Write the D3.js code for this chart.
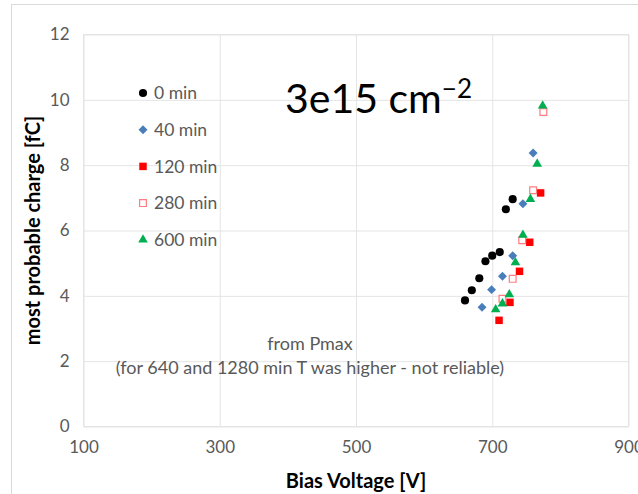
<!DOCTYPE html>
<html>
<head>
<meta charset="utf-8">
<script src="https://cdn.jsdelivr.net/npm/d3@7"></script>
<style>
  body { margin: 0; background: #fff; }
  svg { display: block; font-family: Lato, "Open Sans", sans-serif; }
</style>
</head>
<body>
<svg width="638" height="494"></svg>
<script>
"use strict";

// data (bias voltage [V], most probable charge [fC])
const seriesNames = ["0 min", "40 min", "120 min", "280 min", "600 min"];

const volt0 = [660, 670, 681, 690, 700, 711, 720, 730];
const charge0 = [3.86, 4.17, 4.54, 5.06, 5.23, 5.34, 6.65, 6.96];

const volt40 = [685, 699, 715, 730, 745, 760];
const charge40 = [3.65, 4.19, 4.6, 5.23, 6.82, 8.37];

const volt120 = [710, 726, 740, 755, 771];
const charge120 = [3.25, 3.8, 4.75, 5.64, 7.15];

const volt280 = [715, 730, 744, 760, 775];
const charge280 = [3.91, 4.52, 5.7, 7.23, 9.63];

const volt600 = [705, 715, 725, 734, 745, 756, 766, 774];
const charge600 = [3.58, 3.76, 4.04, 5.02, 5.86, 6.96, 8.04, 9.82];

const xTicks = [100, 300, 500, 700, 900];
const yTicks = [0, 2, 4, 6, 8, 10, 12];

const svg = d3.select("svg");

const margin = { top: 34.5, left: 83.5, right: 9.5, bottom: 67.5 };
const width = +svg.attr("width");
const height = +svg.attr("height");
const innerWidth = width - margin.left - margin.right;
const innerHeight = height - margin.top - margin.bottom;

const x = d3.scaleLinear().domain([100, 900]).range([0, innerWidth]);
const y = d3.scaleLinear().domain([0, 12]).range([innerHeight, 0]);

// outer chart border (only top/left visible)
svg.append("rect")
  .attr("x", 11.5).attr("y", 4.5)
  .attr("width", 700).attr("height", 600)
  .attr("fill", "none")
  .attr("stroke", "#d9d9d9");

const g = svg.append("g")
  .attr("transform", `translate(${margin.left},${margin.top})`);

// gridlines
const gridColor = "#e4e4e4";
const yAxis = d3.axisLeft(y).tickValues(yTicks).tickSize(-innerWidth).tickPadding(14);
const yAxisG = g.append("g").call(yAxis);
yAxisG.select(".domain").remove();
yAxisG.selectAll(".tick line").attr("stroke", gridColor);
yAxisG.selectAll(".tick text")
  .attr("fill", "#595959")
  .style("font-size", "17px")
  .style("font-family", "Lato, sans-serif");

const xAxis = d3.axisBottom(x).tickValues(xTicks).tickSize(-innerHeight).tickPadding(14);
const xAxisG = g.append("g")
  .attr("transform", `translate(0,${innerHeight})`)
  .call(xAxis);
xAxisG.select(".domain").remove();
xAxisG.selectAll(".tick line").attr("stroke", gridColor);
xAxisG.selectAll(".tick text")
  .attr("fill", "#595959")
  .style("font-size", "17px")
  .style("font-family", "Lato, sans-serif");

// plot area border
g.append("rect")
  .attr("width", innerWidth).attr("height", innerHeight)
  .attr("fill", "none")
  .attr("stroke", gridColor);

// axis titles
svg.append("text")
  .attr("x", margin.left + innerWidth / 2)
  .attr("y", 488)
  .attr("text-anchor", "middle")
  .style("font-size", "20px")
  .style("font-weight", "bold")
  .attr("fill", "#000")
  .text("Bias Voltage [V]");

svg.append("text")
  .attr("transform", `translate(40,${margin.top + innerHeight / 2}) rotate(-90)`)
  .attr("text-anchor", "middle")
  .style("font-size", "20px")
  .style("font-weight", "bold")
  .attr("fill", "#000")
  .text("most probable charge [fC]");

// series styles
const seriesData = [
  { name: seriesNames[0], v: volt0, q: charge0, type: d3.symbolCircle, size: 52, fill: "#000", stroke: "none", rot: 0 },
  { name: seriesNames[1], v: volt40, q: charge40, type: d3.symbolSquare, size: 40, fill: "#4a7ebb", stroke: "none", rot: 45 },
  { name: seriesNames[2], v: volt120, q: charge120, type: d3.symbolSquare, size: 56, fill: "#ff0000", stroke: "none", rot: 0 },
  { name: seriesNames[3], v: volt280, q: charge280, type: d3.symbolSquare, size: 46, fill: "#fff", stroke: "#ff7c80", rot: 0 },
  { name: seriesNames[4], v: volt600, q: charge600, type: d3.symbolTriangle, size: 40, fill: "#00b050", stroke: "none", rot: 0 },
];

seriesData.forEach((s) => {
  const pts = s.v.map((v, i) => ({ v: v, q: s.q[i] }));
  g.append("g")
    .selectAll("path")
    .data(pts)
    .enter()
    .append("path")
    .attr("d", d3.symbol().type(s.type).size(s.size))
    .attr("transform", (d) => `translate(${x(d.v)},${y(d.q)}) rotate(${s.rot})`)
    .attr("fill", s.fill)
    .attr("stroke", s.stroke)
    .attr("stroke-width", 1.2);
});

// legend
const legend = svg.append("g").attr("transform", "translate(143,93)");
seriesData.forEach((s, i) => {
  const row = legend.append("g").attr("transform", `translate(0,${i * 36.7})`);
  row.append("path")
    .attr("d", d3.symbol().type(s.type).size(s.size))
    .attr("transform", `rotate(${s.rot})`)
    .attr("fill", s.fill)
    .attr("stroke", s.stroke)
    .attr("stroke-width", 1.2);
  row.append("text")
    .attr("x", 11)
    .attr("dy", "0.35em")
    .attr("fill", "#595959")
    .style("font-size", "17.5px")
    .text(s.name);
});

// big label
const title = svg.append("text")
  .attr("x", 285)
  .attr("y", 113)
  .attr("fill", "#000")
  .style("font-family", "Lato, sans-serif")
  .style("font-size", "41px");
title.append("tspan").text("3e15 cm");
title.append("tspan")
  .attr("dy", -15)
  .style("font-size", "26px")
  .text("\u22122");

// note
const note = svg.append("g").attr("fill", "#595959").style("font-size", "18px");
note.append("text")
  .attr("x", 310).attr("y", 350)
  .attr("text-anchor", "middle")
  .text("from Pmax");
note.append("text")
  .attr("x", 310).attr("y", 374)
  .attr("text-anchor", "middle")
  .text("(for 640 and 1280 min T was higher - not reliable)");
</script>
</body>
</html>
